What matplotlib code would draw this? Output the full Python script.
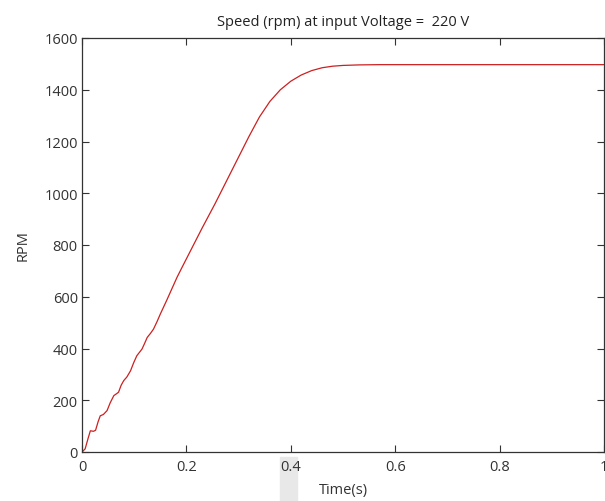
#!/usr/bin/env python3

import matplotlib
matplotlib.use("Agg")
import matplotlib.pyplot as plt
from matplotlib.patches import Rectangle

# ==========================
# DATA
# ==========================
time_s = [0.000, 0.006, 0.012, 0.016, 0.022, 0.026, 0.031, 0.035, 0.041,
          0.048, 0.054, 0.061, 0.066, 0.070, 0.075, 0.080, 0.086, 0.093,
          0.099, 0.105, 0.110, 0.115, 0.120, 0.125, 0.131, 0.137, 0.144,
          0.150, 0.162, 0.172, 0.182, 0.192, 0.211, 0.230, 0.255, 0.280,
          0.300, 0.320, 0.340, 0.360, 0.380, 0.400, 0.420, 0.440, 0.460,
          0.480, 0.500, 0.530, 0.570, 0.650, 0.800, 1.000]
rpm = [0, 12, 55, 82, 80, 84, 118, 140, 145, 160, 190, 218, 225, 231, 258,
       276, 290, 314, 345, 372, 385, 398, 420, 443, 458, 475, 505, 533,
       585, 630, 675, 715, 790, 865, 960, 1060, 1140, 1220, 1295, 1355,
       1400, 1433, 1457, 1474, 1485, 1491, 1494, 1496, 1497, 1497, 1497, 1497]

x_ticks = [0, 0.2, 0.4, 0.6, 0.8, 1]
x_tick_labels = ["0", "0.2", "0.4", "0.6", "0.8", "1"]
y_ticks = [0, 200, 400, 600, 800, 1000, 1200, 1400, 1600]

TITLE = "Speed (rpm) at input Voltage =  220 V"
XLABEL = "Time(s)"
YLABEL = "RPM"

# ==========================
# FIGURE
# ==========================
W, H = 605, 502
plt.rcParams["font.family"] = ["Open Sans", "DejaVu Sans"]
plt.rcParams["font.size"] = 10

fig = plt.figure(figsize=(W / 100, H / 100), dpi=100)
ax = fig.add_axes([82 / W, (H - 453) / H, 522 / W, 414 / H])

# light grey strip under the 0.4 tick (screenshot artefact), behind everything
fig.patches.append(Rectangle((280 / W, 0), 17 / W, (H - 458) / H,
                             transform=fig.transFigure, color="#e8e8e8",
                             zorder=-1))

ax.plot(time_s, rpm, color="#cc2020", lw=0.9)

ax.set_xlim(0, 1)
ax.set_ylim(0, 1600)
ax.set_xticks(x_ticks)
ax.set_xticklabels(x_tick_labels)
ax.set_yticks(y_ticks)

ax.tick_params(direction="in", top=True, right=True, length=5,
               width=0.8, color="#333333", labelcolor="#333333",
               labelsize=10.5)
ax.tick_params(axis="x", pad=5)
ax.tick_params(axis="y", pad=3)
for s in ax.spines.values():
    s.set_color("#333333")
    s.set_linewidth(0.9)

ax.set_title(TITLE, fontsize=10.5, color="#222222", pad=9)
ax.set_xlabel(XLABEL, fontsize=10.5, color="#333333", labelpad=6)
ax.set_ylabel(YLABEL, fontsize=10.5, color="#333333", labelpad=10)

fig.savefig("out.png", dpi=100)
plt.close(fig)
